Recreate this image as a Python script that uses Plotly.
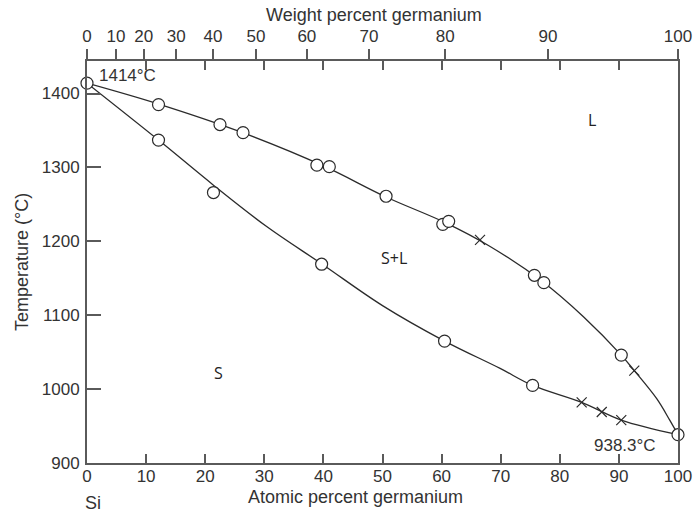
import plotly.graph_objects as go

# ---- data (atomic % Ge, temperature in °C) ----
liq_circle_at = [0, 12.1, 22.5, 26.4, 38.9, 41.0, 50.6, 60.2, 61.2, 75.7, 77.3, 90.4, 100]
liq_circle_T = [1414, 1385, 1358, 1347, 1303, 1301, 1261, 1223, 1227, 1154, 1144, 1046, 938.3]
liq_cross_at = [66.5, 92.6]
liq_cross_T = [1202, 1025]

sol_circle_at = [12.1, 21.4, 39.7, 60.5, 75.4]
sol_circle_T = [1337, 1266, 1169, 1065, 1005]
sol_cross_at = [83.7, 87.1, 90.4]
sol_cross_T = [982, 969, 958]

liquidus_at = [0, 12, 26, 40, 50.6, 60.7, 68, 77, 84, 90.4, 92.6, 96.4, 98.6, 100]
liquidus_T = [1414, 1386, 1348, 1302, 1260, 1225, 1194, 1146, 1098, 1046, 1025, 987, 958, 938.3]

solidus_at = [0, 12.1, 21.4, 30.4, 39.8, 50, 60.5, 69.9, 75.4, 83.7, 90.4, 100]
solidus_T = [1414, 1337, 1276, 1220, 1169, 1113, 1065, 1028, 1005, 982, 958, 938.3]

atomic_ticks = [0, 10, 20, 30, 40, 50, 60, 70, 80, 90, 100]
temp_ticks = [900, 1000, 1100, 1200, 1300, 1400]
weight_tick_labels = ["0", "10", "20", "30", "40", "50", "60", "70", "80", "90", "100"]
weight_tick_at = [0, 4.9, 9.6, 15.1, 21.3, 28.6, 37.2, 47.7, 60.6, 78.0, 100]
inner_top_ticks = [10, 20, 30, 40, 50, 60, 70, 80, 90]

INK = "#2b2b2b"
AX = "#5a5a5a"
TXT = "#333333"
FONT = "Liberation Sans, Arial, sans-serif"

fig = go.Figure()

fig.add_trace(go.Scatter(x=liquidus_at, y=liquidus_T, mode="lines",
                         line=dict(color=INK, width=1.3, shape="spline", smoothing=1.0),
                         hoverinfo="skip", showlegend=False))
fig.add_trace(go.Scatter(x=solidus_at, y=solidus_T, mode="lines",
                         line=dict(color=INK, width=1.3, shape="spline", smoothing=1.0),
                         hoverinfo="skip", showlegend=False))

circ = dict(symbol="circle", size=12, color="white", line=dict(color=INK, width=1.2))
crs = dict(symbol="x-thin", size=10, color=INK, line=dict(color=INK, width=1.2))

fig.add_trace(go.Scatter(x=liq_circle_at, y=liq_circle_T, mode="markers", marker=circ,
                         showlegend=False, cliponaxis=False))
fig.add_trace(go.Scatter(x=sol_circle_at, y=sol_circle_T, mode="markers", marker=circ,
                         showlegend=False, cliponaxis=False))
fig.add_trace(go.Scatter(x=liq_cross_at, y=liq_cross_T, mode="markers", marker=crs,
                         showlegend=False))
fig.add_trace(go.Scatter(x=sol_cross_at, y=sol_cross_T, mode="markers", marker=crs,
                         showlegend=False))

# invisible traces so the top axes are drawn
fig.add_trace(go.Scatter(x=[50], y=[1000], xaxis="x2", mode="markers",
                         marker=dict(opacity=0), hoverinfo="skip", showlegend=False))
fig.add_trace(go.Scatter(x=[50], y=[1000], xaxis="x3", mode="markers",
                         marker=dict(opacity=0), hoverinfo="skip", showlegend=False))

tickfont = dict(family=FONT, size=17, color=TXT)

fig.update_layout(
    width=695, height=515,
    margin=dict(l=87, r=17, t=61, b=52),
    paper_bgcolor="white", plot_bgcolor="white",
    font=dict(family=FONT, color=TXT),
    xaxis=dict(range=[0, 100], tickvals=atomic_ticks, ticks="inside", ticklen=9,
               tickwidth=1.5, tickcolor=AX, showline=True, linecolor=AX, linewidth=2,
               showgrid=False, zeroline=False, tickfont=tickfont, ticklabelstandoff=-3,
               automargin=False),
    xaxis2=dict(range=[0, 100], overlaying="x", side="top", anchor="y",
                tickvals=weight_tick_at, ticktext=weight_tick_labels, ticks="outside",
                ticklen=10, tickwidth=1.5, tickcolor=AX, showline=True, linecolor=AX,
                linewidth=2, showgrid=False, zeroline=False, tickfont=tickfont,
                automargin=False),
    xaxis3=dict(range=[0, 100], overlaying="x", side="top", anchor="y",
                tickvals=inner_top_ticks, ticks="inside", ticklen=9, tickwidth=1.5,
                tickcolor=AX, showticklabels=False, showline=False, showgrid=False,
                zeroline=False, automargin=False),
    yaxis=dict(range=[900, 1444], tickvals=temp_ticks, ticks="inside", ticklen=14,
               tickwidth=1.5, tickcolor=AX, showline=True, linecolor=AX, linewidth=2,
               mirror=True, showgrid=False, zeroline=False, tickfont=tickfont,
               ticklabelstandoff=2, automargin=False),
)

big = dict(family=FONT, size=18, color=TXT)
mid = dict(family=FONT, size=17, color=TXT)
region_font = dict(family="Open Sans, sans-serif", size=16, color="#222222")


def note(text, x, y, xref, yref, font, **kw):
    d = dict(text=text, x=x, y=y, xref=xref, yref=yref, showarrow=False, font=font,
             xanchor="center", yanchor="middle")
    d.update(kw)
    return d


ann = [
    note("Weight percent germanium", 0.485, 1.114, "paper", "paper", big),
    note("Atomic percent germanium", 0.455, -0.085, "paper", "paper", big),
    note("Temperature (°C)", -0.11, 0.5, "paper", "paper", big, textangle=-90),
    note("Si", 1.0, -0.099, "x", "paper", big),
    note("Ge", 100.4, -0.107, "x", "paper", big),
    note("1414°C", 1.7, 1425, "x", "y", mid, xanchor="left"),
    note("938.3°C", 91.0, 924, "x", "y", mid),
    note("L", 85.5, 1364, "x", "y", region_font),
    note("S+L", 51.9, 1177, "x", "y", region_font),
    note("S", 22.2, 1022, "x", "y", region_font),
]
fig.update_layout(annotations=ann)

# remove the default page margin so the 695x515 figure fills the window exactly
fig.write_html("out.html",
               config={"displayModeBar": False},
               post_script="document.body.style.margin='0';document.body.style.overflow='hidden';")
